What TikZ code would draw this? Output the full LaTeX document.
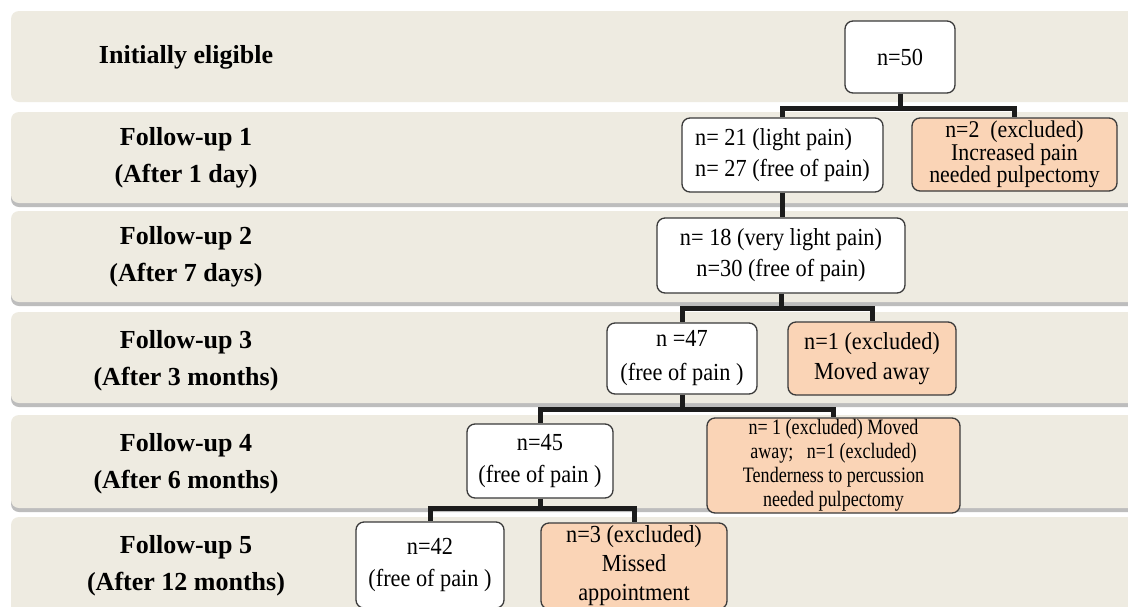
\documentclass[tikz,border=0pt]{standalone}
\usepackage{fontspec}
\setmainfont{Liberation Serif}
\newfontfamily\boxfamily[FakeStretch=0.91]{Liberation Serif}
\newfontfamily\narrowfont[FakeStretch=0.82]{Liberation Serif}
\usepackage{xcolor}
\definecolor{band}{RGB}{238, 235, 225}
\definecolor{bandshadow}{RGB}{189, 189, 189}
\definecolor{exclfill}{RGB}{250, 212, 182}
\definecolor{boxline}{RGB}{58, 58, 58}
\definecolor{linkcol}{RGB}{28, 28, 28}

\tikzset{
  stage/.style={align=center, font=\bfseries\fontsize{26}{37}\selectfont},
  box/.style={draw=boxline, line width=1.3pt, rounded corners=8pt, fill=white,
    align=center, inner sep=0pt, font=\boxfamily\fontsize{24.5}{31}\selectfont},
  excl/.style={box, fill=exclfill},
  link/.style={draw=linkcol, line width=5pt}
}

\begin{document}
\begin{tikzpicture}[x=1pt, y=-1pt]
  \useasboundingbox (0,0) rectangle (1128,606);
  \fill[white] (0,0) rectangle (1128,606);

  % Stage bands
  \foreach \top/\bot in {112/203, 211/302, 312/403, 415/508} {
      \fill[bandshadow, rounded corners=8pt] (11,\top+4) rectangle (1140,\bot+4);
    }
  \foreach \top/\bot in {11/102, 112/203, 211/302, 312/403, 415/508, 517/630} {
      \fill[band, rounded corners=8pt] (11,\top) rectangle (1140,\bot);
    }

  % Stage labels
  \foreach \ypos/\txt [count=\i] in {57/{Initially eligible},
      158/{Follow-up 1\\(After 1 day)}, 257/{Follow-up 2\\(After 7 days)},
      361/{Follow-up 3\\(After 3 months)}, 464/{Follow-up 4\\(After 6 months)},
      566/{Follow-up 5\\(After 12 months)}} {
      \node[stage] (stage\i) at (186,\ypos) {\txt};
    }

  % Boxes
  \node[box, minimum width=110pt, minimum height=72pt] (n50) at (900,57) {n=50};

  \node[box, align=left, minimum width=201pt, minimum height=74pt] (fu1) at (782.5,155)
    {n= 21 (light pain)\\n= 27 (free of pain)};
  \node[excl, minimum width=205pt, minimum height=73pt,
    font=\boxfamily\fontsize{24}{22.5}\selectfont] (ex1) at (1014.5,154.5)
    {n=2~ (excluded)\\Increased pain\\needed pulpectomy};

  \node[box, minimum width=248pt, minimum height=75pt] (fu2) at (781,255.5)
    {n= 18 (very light pain)\\n=30 (free of pain)};

  \node[box, minimum width=150pt, minimum height=71pt,
    font=\boxfamily\fontsize{24.5}{34}\selectfont] (fu3) at (682,358.5)
    {n =47\\(free of pain )};
  \node[excl, minimum width=168pt, minimum height=73pt,
    font=\boxfamily\fontsize{24.5}{30}\selectfont] (ex3) at (872,358.5)
    {n=1 (excluded)\\Moved away};

  \node[box, minimum width=146pt, minimum height=74pt,
    font=\boxfamily\fontsize{24.5}{32}\selectfont] (fu4) at (540,461)
    {n=45\\(free of pain )};
  \node[excl, minimum width=253pt, minimum height=95pt,
    font=\narrowfont\fontsize{22}{24}\selectfont] (ex4) at (833.5,465.5)
    {n= 1 (excluded) Moved\\away;~~ n=1 (excluded)\\Tenderness to percussion\\needed pulpectomy};

  \node[box, minimum width=148pt, minimum height=86pt,
    font=\boxfamily\fontsize{24.5}{32}\selectfont] (fu5) at (430,565)
    {n=42\\(free of pain )};
  \node[excl, minimum width=186pt, minimum height=86pt,
    font=\boxfamily\fontsize{24.5}{29}\selectfont] (ex5) at (634,566)
    {n=3 (excluded)\\Missed\\appointment};

  % Connectors
  \draw[link] (n50.south) -- ++(0,15) coordinate (j1) -| (fu1.north);
  \draw[link] (j1) -| (ex1.north);
  \draw[link] (fu1.south) -- (fu1.south |- fu2.north);
  \draw[link] (fu2.south) -- ++(0,15) coordinate (j2) -| (fu3.north);
  \draw[link] (j2) -| (ex3.north);
  \draw[link] (fu3.south) -- ++(0,15) coordinate (j3) -| (fu4.north);
  \draw[link] (j3) -| (ex4.north);
  \draw[link] (fu4.south) -- ++(0,10) coordinate (j4) -| (fu5.north);
  \draw[link] (j4) -| (ex5.north);
\end{tikzpicture}
\end{document}
